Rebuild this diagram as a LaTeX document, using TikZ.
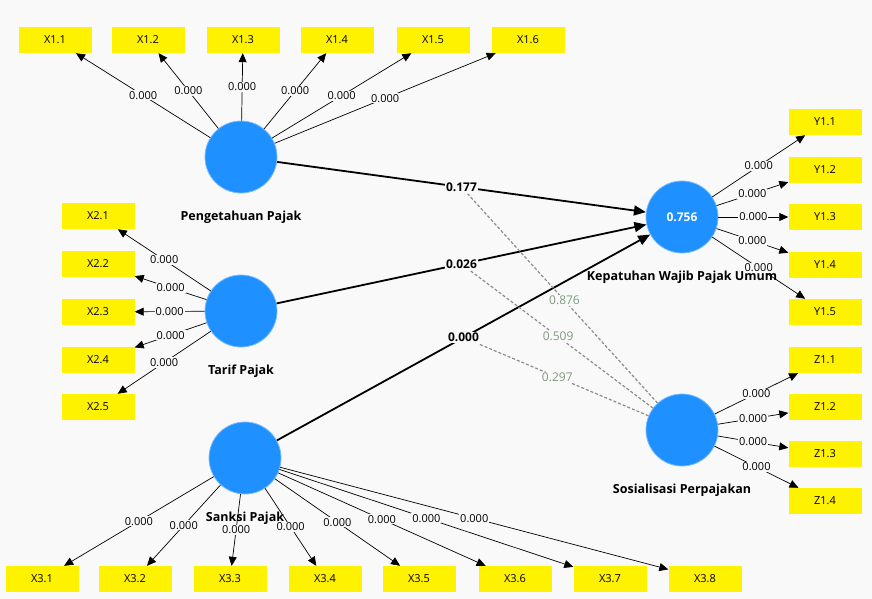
\documentclass[tikz,border=0pt]{standalone}
\usepackage{fontspec}
\setmainfont{Open Sans}
\usetikzlibrary{arrows.meta,positioning}
\definecolor{bgcol}{HTML}{F9F9F9}
\definecolor{latentblue}{HTML}{1E90FF}
\definecolor{modgreen}{HTML}{7F9A7F}
\tikzset{
  latent/.style={circle,fill=latentblue,draw=latentblue!60!white,line width=0.8pt,minimum size=72pt,inner sep=0pt},
  latentname/.style={font=\fontsize{12.5}{14}\selectfont\bfseries,inner sep=1pt},
  indicator/.style={fill=yellow,minimum width=73pt,minimum height=26pt,inner sep=0pt,font=\fontsize{11}{13}\selectfont},
  loading/.style={-{Triangle[length=9pt,width=8pt]},line width=0.7pt},
  loadlabel/.style={fill=bgcol,inner sep=1pt,font=\fontsize{11}{13}\selectfont},
  pathline/.style={-{Triangle[length=12pt,width=10pt]},line width=1.8pt},
  pathlabel/.style={fill=bgcol,inner sep=1.5pt,font=\fontsize{12}{14}\selectfont\bfseries},
  modline/.style={dash pattern=on 3pt off 2pt,draw=gray!90,line width=1.2pt},
  modlabel/.style={fill=bgcol,inner sep=1pt,text=modgreen,font=\fontsize{12}{14}\selectfont}
}
\begin{document}
\begin{tikzpicture}[x=1pt,y=-1pt]
\fill[bgcol] (0,0) rectangle (872,599);
\useasboundingbox (0,0) rectangle (872,599);

% latent variables
\node[latent] (pp) at (241,157) {};
\node[latent] (tp) at (241,311) {};
\node[latent] (sp) at (245,458) {};
\node[latent,text=white,font=\fontsize{12}{14}\selectfont\bfseries] (kwp) at (682,217) {0.756};
\node[latent] (sos) at (682,430) {};

\node[latentname,below=16pt of pp] (ppname) {Pengetahuan Pajak};
\node[latentname,below=16pt of tp] (tpname) {Tarif Pajak};
\node[latentname,below=16pt of sp] (spname) {Sanksi Pajak};
\node[latentname,below=16pt of kwp] (kwpname) {Kepatuhan Wajib Pajak Umum};
\node[latentname,below=16pt of sos] (sosname) {Sosialisasi Perpajakan};

% indicators
\foreach \k/\x in {1/55,2/148,3/243,4/337,5/433,6/528}
  \node[indicator] (x1\k) at (\x,40) {X1.\k};
\foreach \k/\y in {1/216,2/264,3/312,4/360,5/407}
  \node[indicator] (x2\k) at (98,\y) {X2.\k};
\foreach \k/\x in {1/42,2/135,3/230,4/325,5/419,6/515,7/610,8/705}
  \node[indicator] (x3\k) at (\x,579) {X3.\k};
\foreach \k/\y in {1/122,2/170,3/217,4/265,5/312}
  \node[indicator] (y1\k) at (825,\y) {Y1.\k};
\foreach \k/\y in {1/360,2/407,3/454,4/501}
  \node[indicator] (z1\k) at (825,\y) {Z1.\k};

% outer loadings
\foreach \k in {1,...,6}
  \draw[loading] (pp) -- node[loadlabel] {0.000} (x1\k);
\foreach \k in {1,...,5}
  \draw[loading] (tp) -- node[loadlabel] {0.000} (x2\k);
\foreach \k in {1,...,8}
  \draw[loading] (sp) -- node[loadlabel] {0.000} (x3\k);
\foreach \k in {1,...,5}
  \draw[loading] (kwp) -- node[loadlabel] {0.000} (y1\k);
\foreach \k in {1,...,4}
  \draw[loading] (sos) -- node[loadlabel] {0.000} (z1\k);

% inner paths
\draw[pathline] (pp) -- node[pathlabel] (b177) {0.177} (kwp);
\draw[pathline] (tp) -- node[pathlabel] (b026) {0.026} (kwp);
\draw[pathline] (sp) -- node[pathlabel] (b000) {0.000} (kwp);

% moderating effects
\draw[modline] (sos) -- node[modlabel,pos=0.49] {0.876} (b177);
\draw[modline] (sos) -- node[modlabel,pos=0.52] {0.509} (b026);
\draw[modline] (sos) -- node[modlabel,pos=0.54] {0.297} (b000);
\end{tikzpicture}
\end{document}
